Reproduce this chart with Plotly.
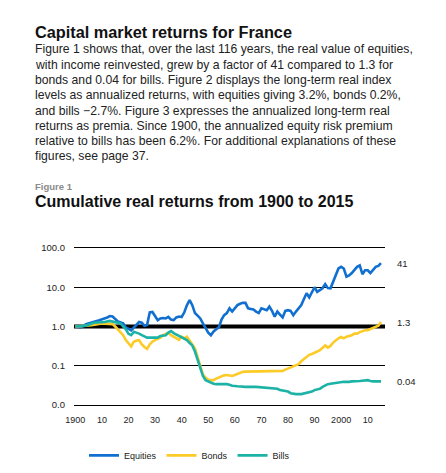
import math
import plotly.graph_objects as go

# ---------------- data ----------------
eq_years = [1900, 1902, 1904, 1906, 1909, 1912, 1913, 1914, 1916, 1918, 1919, 1921, 1922, 1923, 1924,
            1925, 1926, 1927, 1928, 1929, 1930, 1931, 1932, 1933, 1934, 1935, 1936, 1937, 1938, 1939,
            1940, 1941, 1942, 1943, 1944, 1945, 1946, 1947, 1948, 1949, 1950, 1951, 1952, 1953, 1954,
            1955, 1956, 1957, 1958, 1959, 1960, 1961, 1962, 1963, 1964, 1965, 1966, 1967, 1968, 1969,
            1970, 1971, 1972, 1973, 1974, 1975, 1976, 1977, 1978, 1979, 1980, 1981, 1982, 1983, 1984,
            1985, 1986, 1987, 1988, 1989, 1990, 1991, 1992, 1993, 1994, 1995, 1996, 1997, 1998, 1999,
            2000, 2001, 2002, 2003, 2004, 2005, 2006, 2007, 2008, 2009, 2010, 2011, 2012, 2013, 2014,
            2015]
eq_values = [1.0, 0.95, 1.15, 1.25, 1.45, 1.7, 1.85, 1.8, 1.35, 1.2, 0.95, 0.8, 0.95, 1.1, 1.3,
             1.25, 1.05, 1.1, 2.3, 2.35, 1.9, 1.45, 1.6, 1.65, 1.6, 1.75, 1.5, 1.45, 1.7, 1.8,
             1.75, 2.3, 3.5, 4.7, 3.5, 2.2, 1.9, 1.6, 1.2, 0.9, 0.7, 0.6, 0.75, 0.85, 0.95,
             1.5, 1.95, 2.2, 2.9, 2.4, 2.9, 3.5, 3.8, 4.0, 4.0, 2.9, 2.8, 2.7, 2.4, 2.2,
             2.9, 2.7, 2.6, 3.2, 2.5, 1.78, 2.4, 2.0, 1.7, 2.5, 2.6, 2.5, 1.94, 2.4, 2.9,
             3.5, 5.0, 7.0, 5.5, 7.5, 10.0, 7.6, 8.5, 9.4, 12.0, 9.5, 9.4, 13.9, 20.0, 30.0,
             33.0, 30.0, 18.5, 20.0, 23.0, 27.0, 33.0, 36.0, 21.5, 27.0, 27.0, 23.0, 27.0, 33.0, 35.0,
             41.0]

bd_years = [1900, 1903, 1906, 1910, 1913, 1914, 1915, 1916, 1917, 1918, 1919, 1920, 1921, 1922, 1923,
            1924, 1925, 1926, 1927, 1928, 1929, 1930, 1931, 1932, 1933, 1934, 1935, 1936, 1937, 1938,
            1939, 1940, 1941, 1942, 1943, 1944, 1945, 1946, 1947, 1948, 1949, 1950, 1951, 1952, 1953,
            1954, 1955, 1956, 1957, 1958, 1959, 1960, 1961, 1962, 1963, 1964, 1968, 1972, 1977, 1978,
            1979, 1980, 1981, 1982, 1983, 1984, 1985, 1986, 1987, 1988, 1989, 1990, 1991, 1992, 1993,
            1994, 1995, 1996, 1997, 1998, 1999, 2000, 2001, 2002, 2003, 2004, 2005, 2006, 2007, 2008,
            2009, 2010, 2011, 2012, 2013, 2014, 2015]
bd_values = [1.0, 1.02, 1.08, 1.2, 1.2, 1.15, 1.0, 0.85, 0.7, 0.6, 0.45, 0.38, 0.31, 0.41, 0.44,
             0.45, 0.35, 0.3, 0.27, 0.35, 0.41, 0.45, 0.49, 0.52, 0.6, 0.63, 0.69, 0.6, 0.55, 0.5,
             0.46, 0.55, 0.5, 0.55, 0.45, 0.35, 0.28, 0.17, 0.1, 0.06, 0.05, 0.044, 0.043, 0.043, 0.047,
             0.05, 0.054, 0.057, 0.058, 0.056, 0.055, 0.058, 0.062, 0.066, 0.07, 0.071, 0.072, 0.072, 0.072, 0.074,
             0.08, 0.085, 0.092, 0.098, 0.1, 0.11, 0.13, 0.15, 0.17, 0.19, 0.2, 0.21, 0.23, 0.25, 0.28,
             0.33, 0.29, 0.32, 0.39, 0.45, 0.5, 0.54, 0.5, 0.55, 0.57, 0.6, 0.66, 0.66, 0.72, 0.77,
             0.8, 0.8, 0.85, 0.89, 0.95, 1.05, 1.3]

bl_years = [1900, 1902, 1904, 1907, 1911, 1913, 1915, 1917, 1918, 1919, 1920, 1921, 1922, 1923, 1924,
            1925, 1926, 1927, 1928, 1930, 1931, 1932, 1933, 1934, 1935, 1936, 1937, 1938, 1939, 1940,
            1941, 1942, 1943, 1944, 1945, 1946, 1947, 1948, 1949, 1950, 1951, 1952, 1953, 1954, 1955,
            1956, 1957, 1958, 1959, 1961, 1964, 1968, 1970, 1974, 1976, 1977, 1979, 1980, 1981, 1982,
            1983, 1985, 1986, 1987, 1988, 1989, 1990, 1991, 1992, 1993, 1994, 1995, 1996, 1997, 1999,
            2000, 2001, 2003, 2004, 2007, 2008, 2009, 2010, 2011, 2012, 2015]
bl_values = [1.0, 1.02, 1.05, 1.25, 1.3, 1.39, 1.3, 1.2, 1.0, 0.85, 0.65, 0.6, 0.73, 0.7, 0.66,
             0.6, 0.56, 0.52, 0.52, 0.52, 0.52, 0.57, 0.58, 0.6, 0.7, 0.77, 0.68, 0.63, 0.58, 0.55,
             0.5, 0.45, 0.38, 0.33, 0.23, 0.14, 0.08, 0.055, 0.043, 0.04, 0.038, 0.035, 0.034, 0.034, 0.035,
             0.035, 0.034, 0.033, 0.031, 0.03, 0.029, 0.029, 0.028, 0.027, 0.026, 0.024, 0.023, 0.022, 0.02, 0.0195,
             0.019, 0.019, 0.0195, 0.02, 0.021, 0.022, 0.024, 0.025, 0.026, 0.029, 0.032, 0.034, 0.035, 0.036, 0.037,
             0.038, 0.039, 0.039, 0.04, 0.041, 0.042, 0.043, 0.043, 0.041, 0.04, 0.04]

series_names = ["Equities", "Bonds", "Bills"]
series_colors = ["#1170cf", "#fccb27", "#1cb3a6"]
end_labels = ["41", "1.3", "0.04"]
baseline_value = 1.0

y_tickvals = [100, 10, 1, 0.1, 0.01]
y_ticktext = ["100.0", "10.0", "1.0", "0.1", "0.0"]
x_tickvals = [1900, 1910, 1920, 1930, 1940, 1950, 1960, 1970, 1980, 1990, 2000, 2010]
x_ticktext = ["1900", "10", "20", "30", "40", "50", "60", "70", "80", "90", "2000", "10"]

heading = "Capital market returns for France"
paragraph = [
    "Figure 1 shows that, over the last 116 years, the real value of equities,",
    "with income reinvested, grew by a factor of 41 compared to 1.3 for",
    "bonds and 0.04 for bills. Figure 2 displays the long-term real index",
    "levels as annualized returns, with equities giving 3.2%, bonds 0.2%,",
    "and bills \u22122.7%. Figure 3 expresses the annualized long-term real",
    "returns as premia. Since 1900, the annualized equity risk premium",
    "relative to bills has been 6.2%. For additional explanations of these",
    "figures, see page 37.",
]
fig_label = "Figure 1"
fig_title = "Cumulative real returns from 1900 to 2015"

# ---------------- layout geometry ----------------
# the page body has an 8px margin, so the figure is drawn 8px in from the window edge
OFF = 8
W, H = 446 - 2 * OFF, 473 - 2 * OFF
PL, PR = 74 - OFF, 385 - OFF
PT, PB = 245.8 - OFF, 406.7 - OFF
FONT = "Liberation Sans, Arial, Helvetica, sans-serif"
YRANGE = [-2.05, 2.05]


def py(px):
    # px given in window pixels
    return (PB - (px - OFF)) / (PB - PT)


def pxx(px):
    return ((px - OFF) - PL) / (PR - PL)


fig = go.Figure()
all_x = [eq_years, bd_years, bl_years]
all_y = [eq_values, bd_values, bl_values]
for name, col, xs, ys in zip(series_names, series_colors, all_x, all_y):
    fig.add_trace(go.Scatter(x=xs, y=ys, mode="lines", name=name,
                             line=dict(color=col, width=2.6), hoverinfo="skip"))

annotations = []
for lab, ys in zip(end_labels, all_y):
    annotations.append(dict(x=pxx(395), xref="paper", y=math.log10(ys[-1]), yref="y",
                            text=lab, showarrow=False, xanchor="left", yanchor="middle",
                            font=dict(family=FONT, size=9.5, color="#222")))

annotations.append(dict(x=pxx(33), xref="paper", y=py(32), yref="paper", text="<b>" + heading + "</b>",
                        showarrow=False, xanchor="left", yanchor="middle",
                        font=dict(family=FONT, size=16.3, color="#111")))
line_y = [49.3, 64.7, 80.0, 95.2, 110.4, 125.7, 141.0, 156.2]
for t, yy in zip(paragraph, line_y):
    annotations.append(dict(x=pxx(33), xref="paper", y=py(yy), yref="paper", text=t,
                            showarrow=False, xanchor="left", yanchor="middle",
                            font=dict(family=FONT, size=12.2, color="#222")))
annotations.append(dict(x=pxx(33), xref="paper", y=py(186.5), yref="paper", text="<b>" + fig_label + "</b>",
                        showarrow=False, xanchor="left", yanchor="middle",
                        font=dict(family=FONT, size=9.5, color="#8a8a8a")))
annotations.append(dict(x=pxx(33), xref="paper", y=py(201), yref="paper", text="<b>" + fig_title + "</b>",
                        showarrow=False, xanchor="left", yanchor="middle",
                        font=dict(family=FONT, size=16, color="#111")))

base_paper = (math.log10(baseline_value) - YRANGE[0]) / (YRANGE[1] - YRANGE[0])

fig.update_layout(
    width=W, height=H,
    margin=dict(l=PL, r=W - PR, t=PT, b=H - PB, pad=0, autoexpand=False),
    paper_bgcolor="white", plot_bgcolor="white",
    showlegend=True,
    legend=dict(orientation="h", x=pxx(84), xanchor="left", y=py(455), yanchor="middle",
                font=dict(family=FONT, size=9, color="#222"), itemwidth=30,
                bgcolor="rgba(0,0,0,0)", tracegroupgap=0),
    annotations=annotations,
    shapes=[dict(type="line", xref="paper", x0=0, x1=1, yref="paper", y0=base_paper, y1=base_paper,
                 line=dict(color="black", width=4), layer="below")],
    xaxis=dict(range=[1899.5, 2016.5], tickvals=x_tickvals, ticktext=x_ticktext,
               showgrid=False, zeroline=False, showline=False, ticks="", ticklabelstandoff=6,
               tickfont=dict(family=FONT, size=9, color="#222")),
    yaxis=dict(type="log", range=YRANGE, tickvals=y_tickvals, ticktext=y_ticktext,
               showgrid=True, gridcolor="black", gridwidth=1.3, zeroline=False, showline=False,
               ticks="", ticklabelstandoff=8,
               tickfont=dict(family=FONT, size=9.5, color="#222")),
)

fig.write_html("out.html")
